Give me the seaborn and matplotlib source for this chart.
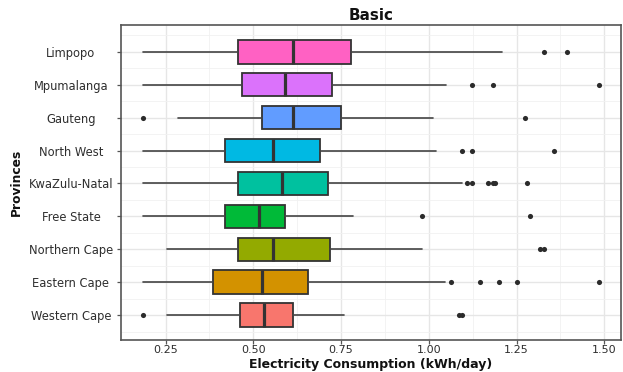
import matplotlib
matplotlib.use("Agg")
import matplotlib.pyplot as plt
import numpy as np
import pandas as pd
import seaborn as sns

# Provinces, top to bottom
provinces = ["Limpopo", "Mpumalanga", "Gauteng", "North West", "KwaZulu-Natal",
             "Free State", "Northern Cape", "Eastern Cape", "Western Cape"]

# Five-number summaries (kWh/day)
whisker_low = [0.186, 0.186, 0.285, 0.186, 0.186, 0.186, 0.254, 0.186, 0.254]
q1 = [0.455, 0.467, 0.525, 0.419, 0.456, 0.418, 0.456, 0.386, 0.462]
median = [0.613, 0.591, 0.613, 0.555, 0.583, 0.516, 0.555, 0.526, 0.531]
q3 = [0.779, 0.724, 0.749, 0.689, 0.712, 0.591, 0.718, 0.655, 0.614]
whisker_high = [1.207, 1.048, 1.012, 1.020, 1.094, 0.785, 0.981, 1.047, 0.757]

# Outlying households
outlier_province = (["Limpopo"] * 2 + ["Mpumalanga"] * 3 + ["Gauteng"] * 2
                    + ["North West"] * 3 + ["KwaZulu-Natal"] * 6 + ["Free State"] * 2
                    + ["Northern Cape"] * 2 + ["Eastern Cape"] * 5 + ["Western Cape"] * 3)
outlier_value = [1.327, 1.394,
                 1.123, 1.184, 1.484,
                 0.186, 1.274,
                 1.094, 1.123, 1.356,
                 1.109, 1.123, 1.168, 1.183, 1.189, 1.281,
                 0.981, 1.289,
                 1.317, 1.327,
                 1.064, 1.147, 1.199, 1.251, 1.484,
                 0.186, 1.085, 1.095]

colors = ["#FF61C3", "#DB72FB", "#619CFF", "#00B9E3", "#00C19F",
          "#00BA38", "#93AA00", "#D39200", "#F8766D"]

x_ticks = [0.25, 0.50, 0.75, 1.00, 1.25, 1.50]
x_tick_labels = ["0.25", "0.50", "0.75", "1.00", "1.25", "1.50"]

sns.set_theme(style="whitegrid")
plt.rcParams["font.family"] = ["DejaVu Sans"]

fig = plt.figure(figsize=(6.23, 3.72), dpi=100)
ax = fig.add_axes([0.1942, 0.086, 0.8018, 0.846])

# Outliers as points on the categorical axis
outliers = pd.DataFrame({"Province": outlier_province, "Consumption": outlier_value})
sns.stripplot(data=outliers, x="Consumption", y="Province", order=provinces,
              jitter=False, color="#2b2b2b", size=3.7, linewidth=0, ax=ax, zorder=4)

# Boxes from the summary statistics
stats = [dict(whislo=lo, q1=a, med=m, q3=b, whishi=hi, fliers=[])
         for lo, a, m, b, hi in zip(whisker_low, q1, median, q3, whisker_high)]
bp = ax.bxp(stats, positions=np.arange(len(provinces)), widths=0.72,
            orientation="horizontal", patch_artist=True, showfliers=False,
            showcaps=False, manage_ticks=False,
            boxprops=dict(edgecolor="#333333", linewidth=1.3),
            medianprops=dict(color="#333333", linewidth=2.3),
            whiskerprops=dict(color="#444444", linewidth=1.2))
for patch, c in zip(bp["boxes"], colors):
    patch.set_facecolor(c)
    patch.set_zorder(3)
for ln in bp["medians"] + bp["whiskers"]:
    ln.set_zorder(3.5)

ax.set_xlim(0.1229, 1.546)
ax.set_ylim(8.75, -0.80)
ax.set_xticks(x_ticks)
ax.set_xticklabels(x_tick_labels)
ax.set_xticks([0.375, 0.625, 0.875, 1.125, 1.375], minor=True)
ax.set_yticks(np.arange(len(provinces)))
ax.set_yticklabels(provinces, ha="center")
ax.set_yticks(np.arange(len(provinces) + 1) - 0.5, minor=True)

ax.grid(which="major", color="#E6E6E6", linewidth=1.0)
ax.grid(which="minor", color="#F1F1F1", linewidth=0.6)
ax.set_axisbelow(True)

for s in ax.spines.values():
    s.set_visible(True)
    s.set_color("#555555")
    s.set_linewidth(1.2)

ax.tick_params(axis="both", which="major", length=2.6, width=0.9, color="#555555",
               labelsize=8.3, labelcolor="#2e2e2e")
ax.tick_params(axis="both", which="minor", length=0)
ax.tick_params(axis="y", which="major", pad=33.4, left=True)
ax.tick_params(axis="x", which="major", pad=0.8, bottom=True, labelsize=8.0)

ax.set_title("Basic", fontweight="bold", fontsize=10.9, color="#111111", pad=4)
ax.set_xlabel("Electricity Consumption (kWh/day)", fontweight="bold", fontsize=9.0,
              color="#111111")
ax.xaxis.label.set_va("center")
ax.xaxis.set_label_coords(0.5, -0.077)
ax.set_ylabel("Provinces", fontweight="bold", fontsize=8.8, color="#111111")
ax.yaxis.label.set_va("center")
ax.yaxis.set_label_coords(-0.21, 0.5)

fig.savefig("out.png", dpi=100, facecolor="white")
